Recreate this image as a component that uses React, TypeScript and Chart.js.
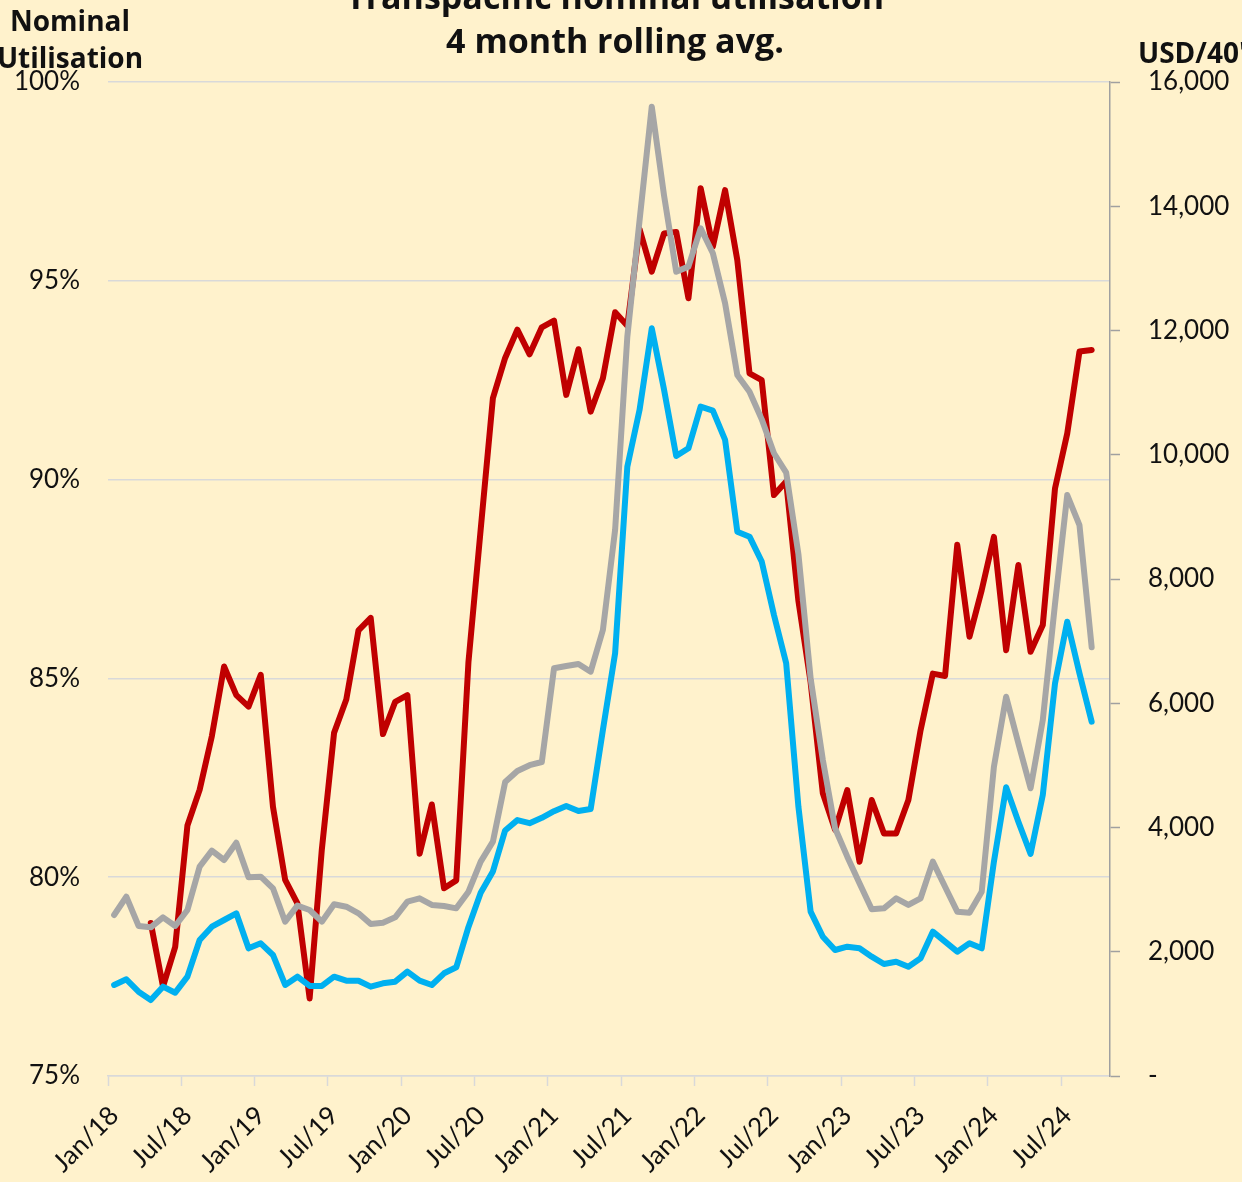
import React, { useEffect, useRef } from "react";
import { Chart, registerables } from "chart.js";

Chart.register(...registerables);

// ---- data ----
const MONTHS = ["Jan", "Feb", "Mar", "Apr", "May", "Jun", "Jul", "Aug", "Sep", "Oct", "Nov", "Dec"];
const YEARS = ["18", "19", "20", "21", "22", "23", "24"];
const LAST_MONTH_INDEX_2024 = 9; // axis runs to Oct/24

const TITLE_LINES = ["Transpacific nominal utilisation", "4 month rolling avg."];
const LEFT_AXIS_TITLE = ["Nominal", "Utilisation"];
const RIGHT_AXIS_TITLE = "USD/40'";

// Nominal utilisation, % (left axis), Jan/18 .. Sep/24
const utilisation: (number | null)[] = [
  null, null, null, 78.85, 77.25, 78.25, 81.3, 82.2, 83.55, 85.3, 84.58, 84.29,
  85.09, 81.77, 79.93, 79.34, 76.95, 80.7, 83.63, 84.47, 86.21, 86.52, 83.6, 84.41,
  84.58, 80.59, 81.83, 79.72, 79.92, 85.42, 88.75, 92.05, 93.06, 93.77, 93.15, 93.83,
  94.0, 92.13, 93.28, 91.71, 92.55, 94.21, 93.87, 96.3, 95.23, 96.19, 96.23, 94.56,
  97.33, 95.86, 97.28, 95.52, 92.67, 92.5, 89.61, 89.95, 86.95, 84.9, 82.11, 81.19,
  82.19, 80.39, 81.94, 81.1, 81.1, 81.94, 83.7, 85.12, 85.06, 88.36, 86.05, 87.22,
  88.56, 85.71, 87.85, 85.67, 86.34, 89.78, 91.16, 93.22, 93.26,
];

// Grey rate series, USD/40' (right axis)
const greyRate: number[] = [
  2592, 2886, 2415, 2393, 2554, 2415, 2672, 3370, 3627, 3477, 3756, 3198,
  3209, 3021, 2484, 2742, 2672, 2484, 2764, 2725, 2619, 2447, 2468, 2554,
  2806, 2860, 2753, 2736, 2699, 2967, 3450, 3772, 4731, 4910, 5003, 5054,
  6563, 6600, 6632, 6508, 7179, 8789, 11901, 13770, 15603, 14180, 12947, 13028,
  13645, 13243, 12438, 11284, 11015, 10570, 10024, 9712, 8400, 6400, 5087, 3987,
  3531, 3102, 2683, 2699, 2860, 2753, 2860, 3450, 3047, 2645, 2629, 2967,
  4979, 6106, 5355, 4631, 5731, 7600, 9352, 8869, 6901,
];

// Blue rate series, USD/40' (right axis)
const blueRate: number[] = [
  1465, 1556, 1357, 1223, 1438, 1341, 1599, 2189, 2404, 2511, 2619, 2055,
  2136, 1948, 1465, 1599, 1449, 1449, 1599, 1534, 1534, 1438, 1492, 1518,
  1679, 1534, 1465, 1653, 1750, 2400, 2950, 3293, 3953, 4119, 4069, 4155,
  4262, 4346, 4266, 4298, 5570, 6804, 9808, 10721, 12035, 11051, 9980, 10104,
  10774, 10710, 10238, 8762, 8681, 8279, 7421, 6643, 4335, 2645, 2242, 2028,
  2082, 2055, 1921, 1803, 1840, 1760, 1894, 2323, 2162, 2001, 2136, 2055,
  3450, 4647, 4094, 3574, 4523, 6321, 7313, 6482, 5703,
];

const categories: string[] = [];
YEARS.forEach((y, yi) => {
  MONTHS.forEach((m, mi) => {
    if (yi === YEARS.length - 1 && mi > LAST_MONTH_INDEX_2024) return;
    categories.push(`${m}/${y}`);
  });
});

const LEFT_TICKS = { min: 75, max: 100, step: 5 };
const RIGHT_TICKS = { min: 0, max: 16000, step: 2000 };

const COLORS = {
  bg: "#FFF2CC",
  red: "#C00000",
  grey: "#A6A6A6",
  blue: "#00B0F0",
  grid: "#D9D9D9",
  axis: "#A0A0A0",
  text: "#111111",
};

const FONT = "Lato";
const TITLE_FONT = "'Open Sans'";
const W = 1242;
const H = 1182;
const LINE_W = 6;

const bgPlugin = {
  id: "bgFill",
  beforeDraw(chart: any) {
    const c = chart.ctx;
    c.save();
    c.fillStyle = COLORS.bg;
    c.fillRect(0, 0, chart.width, chart.height);
    c.restore();
  },
};

const textPlugin = {
  id: "annotTexts",
  afterDraw(chart: any) {
    const c = chart.ctx;
    const a = chart.chartArea;
    c.save();
    c.fillStyle = COLORS.text;
    c.textBaseline = "alphabetic";
    c.textAlign = "center";
    c.font = `bold 34px ${TITLE_FONT}`;
    const cx = (a.left + a.right) / 2 + 6;
    c.fillText(TITLE_LINES[0], cx, 9);
    c.fillText(TITLE_LINES[1], cx, 53);
    c.font = `bold 28px ${TITLE_FONT}`;
    c.fillText(LEFT_AXIS_TITLE[0], 70, 31);
    c.fillText(LEFT_AXIS_TITLE[1], 70, 68);
    c.textAlign = "left";
    c.fillText(RIGHT_AXIS_TITLE, a.right + 28, 63);
    c.restore();
  },
};

const lineStyle = {
  borderWidth: LINE_W,
  pointRadius: 0,
  tension: 0,
  borderJoinStyle: "round" as const,
  borderCapStyle: "round" as const,
};

export default function App() {
  const ref = useRef<HTMLCanvasElement | null>(null);

  useEffect(() => {
    if (!ref.current) return;
    const chart = new Chart(ref.current, {
      type: "line",
      data: {
        labels: categories,
        datasets: [
          {
            label: "Blue rate (USD/40')",
            data: blueRate,
            yAxisID: "y1",
            borderColor: COLORS.blue,
            backgroundColor: COLORS.blue,
            ...lineStyle,
          },
          {
            label: "Grey rate (USD/40')",
            data: greyRate,
            yAxisID: "y1",
            borderColor: COLORS.grey,
            backgroundColor: COLORS.grey,
            ...lineStyle,
          },
          {
            label: "Nominal utilisation",
            data: utilisation,
            yAxisID: "y",
            borderColor: COLORS.red,
            backgroundColor: COLORS.red,
            ...lineStyle,
          },
        ],
      },
      options: {
        responsive: false,
        animation: false,
        layout: { padding: { top: 82, left: 0, right: 0, bottom: 0 } },
        plugins: {
          legend: { display: false },
          title: { display: false },
          tooltip: { enabled: false },
        },
        scales: {
          x: {
            type: "category",
            offset: true,
            grid: {
              offset: true,
              drawOnChartArea: false,
              drawTicks: true,
              tickLength: 10,
              tickWidth: 1.5,
              tickColor: (ctx: any) => (ctx.index % 6 === 0 ? COLORS.grid : "rgba(0,0,0,0)"),
            },
            border: { display: true, color: COLORS.grid, width: 1.5 },
            ticks: {
              autoSkip: false,
              minRotation: 45,
              maxRotation: 45,
              padding: 14,
              color: COLORS.text,
              font: { family: FONT, size: 26 },
              callback: (_v: any, i: number) => (i % 6 === 0 ? categories[i] : ""),
            },
            afterFit: (s: any) => {
              s.height = 106;
            },
          },
          y: {
            position: "left",
            min: LEFT_TICKS.min,
            max: LEFT_TICKS.max,
            grid: { color: COLORS.grid, lineWidth: 1.5, drawTicks: false },
            border: { display: false },
            ticks: {
              stepSize: LEFT_TICKS.step,
              padding: 28,
              color: COLORS.text,
              font: { family: FONT, size: 26 },
              callback: (v: any) => `${v}%`,
            },
            afterFit: (s: any) => {
              s.width = 108;
            },
          },
          y1: {
            position: "right",
            min: RIGHT_TICKS.min,
            max: RIGHT_TICKS.max,
            grid: {
              drawOnChartArea: false,
              drawTicks: true,
              tickLength: 10,
              tickWidth: 1.5,
              tickColor: COLORS.axis,
            },
            border: { display: true, color: COLORS.axis, width: 1.5 },
            ticks: {
              stepSize: RIGHT_TICKS.step,
              padding: 28,
              color: COLORS.text,
              font: { family: FONT, size: 26 },
              callback: (v: any) => (v === 0 ? "-" : Number(v).toLocaleString("en-US")),
            },
            afterFit: (s: any) => {
              s.width = W - 1110;
            },
          },
        },
      },
      plugins: [bgPlugin, textPlugin],
    });
    return () => chart.destroy();
  }, []);

  return (
    <div style={{ position: "absolute", left: 0, top: 0, width: W, height: H, overflow: "hidden", background: COLORS.bg }}>
      <canvas ref={ref} width={W} height={H} style={{ display: "block", width: W, height: H }} />
    </div>
  );
}
